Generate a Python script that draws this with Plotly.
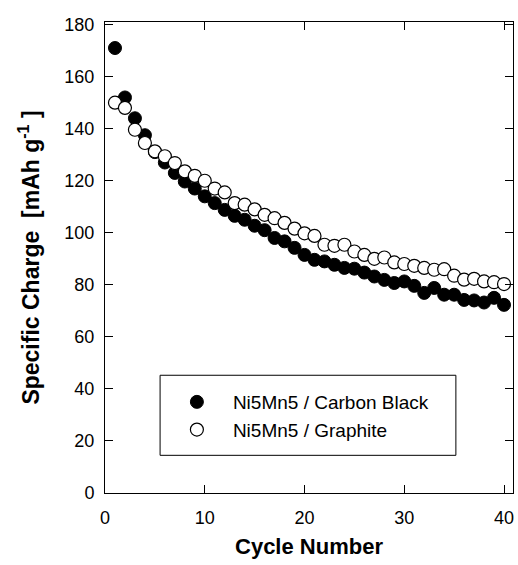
import plotly.graph_objects as go

cycles = list(range(1, 41))
carbon_black = [171, 152, 144, 137.5, 131, 127, 123, 119.7, 117, 114,
                111.4, 108.8, 106.5, 105, 102.7, 101, 98, 96.7, 94.2, 91.5,
                89.6, 89, 87.7, 86.5, 86.2, 84.7, 83.2, 81.9, 80.7, 81.3,
                79.6, 76.9, 78.8, 76.2, 76.2, 74.2, 74, 73.2, 75, 72.3]
graphite = [150, 148, 139.6, 134.5, 131.3, 129.4, 126.8, 123.6, 121.9, 120,
            117, 115.5, 111.4, 110.8, 109, 106.9, 105.6, 103.8, 101.6, 99.8,
            98.8, 95.4, 95, 95.4, 92.8, 91.5, 90, 90.5, 88.6, 88,
            87.3, 86.5, 85.8, 86, 83.5, 82, 82.3, 81.3, 81, 80.3]
x_ticks = [0, 10, 20, 30, 40]
y_ticks = list(range(0, 181, 20))

font = "Arial, Liberation Sans, Helvetica, sans-serif"

fig = go.Figure()
fig.add_trace(go.Scatter(x=cycles, y=carbon_black, mode="markers",
                         name="Ni5Mn5 / Carbon Black",
                         marker=dict(symbol="circle", size=13, color="black",
                                     line=dict(color="black", width=1))))
fig.add_trace(go.Scatter(x=cycles, y=graphite, mode="markers",
                         name="Ni5Mn5 / Graphite",
                         marker=dict(symbol="circle", size=13, color="white",
                                     line=dict(color="black", width=1.2))))

fig.update_layout(
    width=518, height=565,
    margin=dict(l=105, r=5, t=22, b=72),
    plot_bgcolor="white", paper_bgcolor="white",
    font=dict(family=font, color="black", size=18),
    showlegend=True,
    legend=dict(x=0.137, y=0.2335, xanchor="left", yanchor="top",
                bgcolor="rgba(0,0,0,0)", borderwidth=0,
                font=dict(family=font, size=19, color="black"),
                itemwidth=62, tracegroupgap=0),
    shapes=[dict(type="rect", xref="paper", yref="paper",
                 x0=0.135, x1=0.86, y0=0.08, y1=0.25,
                 line=dict(color="black", width=1), fillcolor="rgba(0,0,0,0)",
                 layer="below")],
)
fig.update_xaxes(range=[0, 40.9], tickvals=x_ticks,
                 ticks="inside", ticklen=8, tickcolor="black", tickwidth=1,
                 showline=True, linecolor="black", linewidth=1, mirror="ticks",
                 showgrid=False, zeroline=False,
                 tickfont=dict(size=18), ticklabelstandoff=8,
                 title=dict(text="<b>Cycle Number</b>", font=dict(size=22), standoff=12))
fig.update_yaxes(range=[0, 181], tickvals=y_ticks,
                 ticks="inside", ticklen=8, tickcolor="black", tickwidth=1,
                 showline=True, linecolor="black", linewidth=1, mirror="ticks",
                 showgrid=False, zeroline=False,
                 tickfont=dict(size=18), ticklabelstandoff=6,
                 title=dict(text="<b>Specific Charge\u00a0\u00a0[mAh g<sup>-1</sup>\u00a0]</b>",
                            font=dict(size=23), standoff=18))

fig.write_html("out.html")
